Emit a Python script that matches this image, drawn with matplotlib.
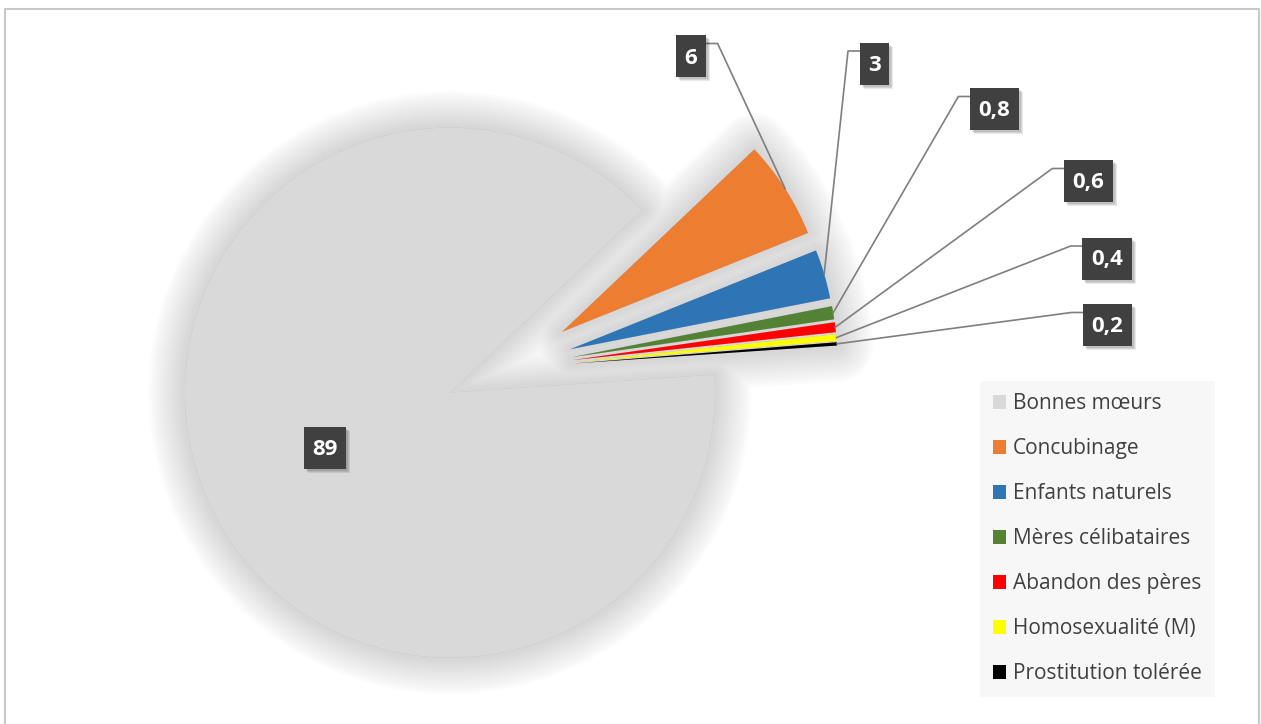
import numpy as np
import matplotlib.pyplot as plt
import matplotlib.patches as mpatches
import matplotlib.patheffects as pe
from matplotlib.path import Path
from matplotlib.font_manager import FontProperties
from matplotlib.textpath import TextPath

W, H = 1261, 724

categories = ['Bonnes mœurs', 'Concubinage', 'Enfants naturels', 'Mères célibataires',
              'Abandon des pères', 'Homosexualité (M)', 'Prostitution tolérée']
values = [89, 6, 3, 0.8, 0.6, 0.4, 0.2]
colors = ['#d9d9d9', '#ed7d31', '#2e75b6', '#548235', '#ff0000', '#ffff00', '#000000']
explode = [0.226, 0.257, 0.257, 0.257, 0.257, 0.257, 0.257]   # fraction of radius

# label box centres in pixels (y from top); None -> label sits inside the slice
box_pos = [None, (691, 56), (874.5, 63.5), (994.5, 109), (1088.5, 181), (1107, 258.5), (1107.5, 325)]


def px(x, y):
    return x, H - y


fig = plt.figure(figsize=(W / 100, H / 100), dpi=100)
ax = fig.add_axes([0, 0, 1, 1])

R = 265
wedges, _ = ax.pie(values, colors=colors, explode=[e * R for e in explode], radius=R,
                   center=px(504.8, 368.6), startangle=3.9, counterclock=False,
                   wedgeprops=dict(linewidth=0, zorder=2))

# soft shadow: one compound path so the glows do not pile up
shadow_path = Path.make_compound_path(*[w.get_path().transformed(w.get_patch_transform())
                                        for w in wedges])
glow = [pe.Stroke(linewidth=lw, foreground='#9a9a9a', alpha=0.03, joinstyle='round')
        for lw in range(52, 0, -4)]
sh = mpatches.PathPatch(shadow_path, facecolor='#9a9a9a', edgecolor='#9a9a9a',
                        linewidth=1, zorder=1)
sh.set_path_effects(glow)
ax.add_patch(sh)

# data labels
fp_box = FontProperties(family='Open Sans', weight='bold', size=16)
fs_px = 16 * 100 / 72
for i, (w, v) in enumerate(zip(wedges, values)):
    s = f'{v:g}'.replace('.', ',')
    mid = np.deg2rad((w.theta1 + w.theta2) / 2)
    if box_pos[i] is None:
        cx = w.center[0] + 0.515 * R * np.cos(mid)
        cy = w.center[1] + 0.515 * R * np.sin(mid)
    else:
        cx, cy = px(*box_pos[i])
    ext = TextPath((0, 0), s, size=fs_px, prop=fp_box).get_extents()
    bw, bh = ext.width + 19, 42
    for k in (2, 3, 4):
        ax.add_patch(mpatches.Rectangle((cx - bw / 2 + k, cy - bh / 2 - k), bw, bh,
                                        facecolor='black', alpha=0.09, linewidth=0, zorder=4))
    ax.add_patch(mpatches.Rectangle((cx - bw / 2, cy - bh / 2), bw, bh,
                                    facecolor='#404040', linewidth=0, zorder=5))
    ax.text(cx - ext.width / 2 - ext.x0, cy - ext.height / 2 - ext.y0, s,
            fontproperties=fp_box, color='white', ha='left', va='baseline', zorder=6)
    if box_pos[i] is not None:
        ex = w.center[0] + R * np.cos(mid)
        ey = w.center[1] + R * np.sin(mid)
        ly = cy + bh / 2 - 8.5
        if cx < ex:
            x0 = cx + bw / 2
            x1 = x0 + 11.5
        else:
            x0 = cx - bw / 2
            x1 = x0 - 11.5
        ax.plot([x0, x1, ex], [ly, ly, ey], color='#7f7f7f', lw=1.2, zorder=3)

leg = ax.legend(wedges, categories, loc='upper left', bbox_to_anchor=(980 / W, 1 - 380.5 / H),
                bbox_transform=fig.transFigure, frameon=True, fancybox=False,
                facecolor='#f7f7f7', edgecolor='none', framealpha=1,
                prop=FontProperties(family='Open Sans', size=15), labelcolor='#404040',
                handlelength=0.65, handleheight=0.65, handletextpad=0.3,
                labelspacing=1.15, borderpad=0.62, borderaxespad=0)

# chart area border
ax.plot([4.5, 4.5, 1259, 1259], [-10, H - 8.5, H - 8.5, -10], color='#c8c8c8', lw=1.5, zorder=0)

ax.set_xlim(0, W)
ax.set_ylim(0, H)
ax.set_aspect('equal')
ax.axis('off')

fig.savefig('out.png', dpi=100, facecolor='white')
